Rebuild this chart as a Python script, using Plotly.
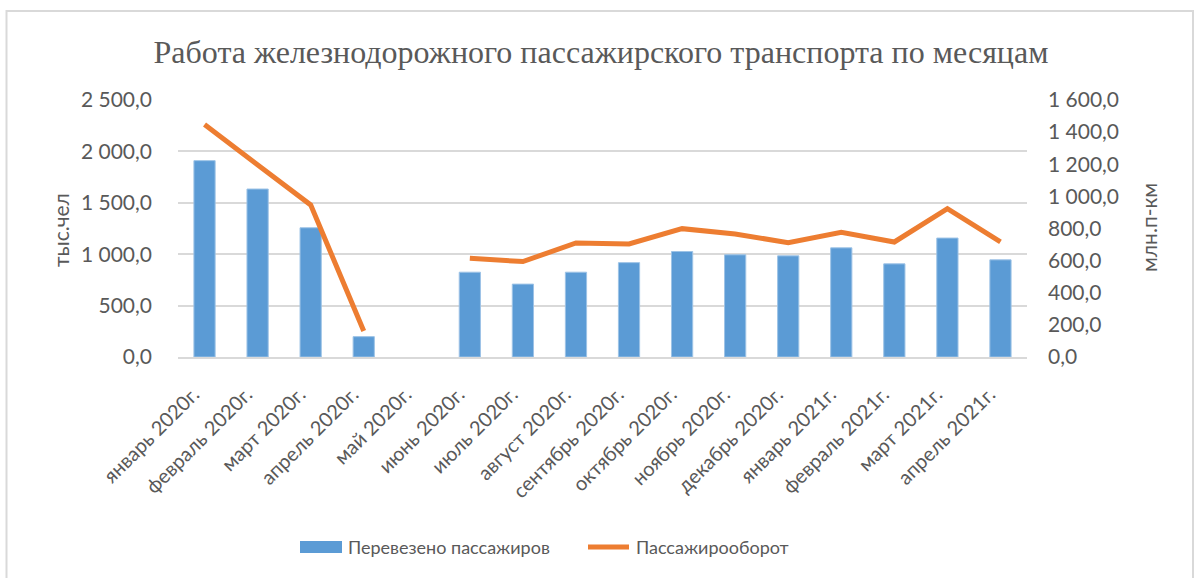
import plotly.graph_objects as go

categories = ["январь 2020г.", "февраль 2020г.", "март 2020г.", "апрель 2020г.", "май 2020г.",
              "июнь 2020г.", "июль 2020г.", "август 2020г.", "сентябрь 2020г.", "октябрь 2020г.",
              "ноябрь 2020г.", "декабрь 2020г.", "январь 2021г.", "февраль 2021г.", "март 2021г.",
              "апрель 2021г."]
passengers = [1910, 1634, 1257, 198, None, 825, 709, 825, 918, 1026, 994, 984, 1062, 906, 1157, 945]
turnover = [1447, 1196, 947, 162, None, 615, 594, 710, 704, 799, 766, 712, 777, 716, 924, 716]

name_bar = "Перевезено пассажиров"
name_line = "Пассажирооборот"

W, H = 1196, 578
ML, MR, MT, MB = 178, 169, 100, 221
PW, PH = W - ML - MR, H - MT - MB

BLUE = "#5B9BD5"
ORANGE = "#ED7D31"
GREY = "#595959"
FONT = "Lato, Noto Sans, sans-serif"

fig = go.Figure()
fig.add_trace(go.Bar(x=categories, y=passengers, name=name_bar,
                     marker=dict(color=BLUE, line=dict(color="#9DC3E6", width=1)),
                     width=0.4, yaxis="y", showlegend=False))
fig.add_trace(go.Scatter(x=categories, y=turnover, name=name_line, mode="lines",
                         line=dict(color=ORANGE, width=5), connectgaps=False, yaxis="y2",
                         showlegend=False))

axfont = dict(family=FONT, size=21, color=GREY)


def px2x(px):
    return (px - ML) / PW


def py2y(py):
    return (H - MB - py) / PH


shapes = [
    dict(type="rect", xref="paper", yref="paper",
         x0=px2x(6.5), x1=px2x(1193), y0=py2y(600), y1=py2y(11),
         line=dict(color="#D9D9D9", width=2), fillcolor="rgba(0,0,0,0)", layer="below"),
    dict(type="rect", xref="paper", yref="paper",
         x0=px2x(300), x1=px2x(342), y0=py2y(553), y1=py2y(541),
         line=dict(width=0), fillcolor=BLUE),
    dict(type="line", xref="paper", yref="paper",
         x0=px2x(588), x1=px2x(629), y0=py2y(547), y1=py2y(547),
         line=dict(color=ORANGE, width=5)),
]

annotations = [
    dict(text="тыс.чел", xref="paper", yref="paper", x=px2x(60), y=py2y(230),
         xanchor="center", yanchor="middle", textangle=-90, showarrow=False, font=axfont),
    dict(text="млн.п-км", xref="paper", yref="paper", x=px2x(1148), y=py2y(228),
         xanchor="center", yanchor="middle", textangle=-90, showarrow=False, font=axfont),
    dict(text=name_bar, xref="paper", yref="paper", x=px2x(346), y=py2y(547),
         xanchor="left", yanchor="middle", showarrow=False,
         font=dict(family=FONT, size=18, color=GREY)),
    dict(text=name_line, xref="paper", yref="paper", x=px2x(634), y=py2y(547),
         xanchor="left", yanchor="middle", showarrow=False,
         font=dict(family=FONT, size=18, color=GREY)),
]

fig.update_layout(
    width=W, height=H,
    margin=dict(l=ML, r=MR, t=MT, b=MB, autoexpand=False),
    paper_bgcolor="white", plot_bgcolor="white",
    separators=", ",
    title=dict(text="Работа железнодорожного пассажирского транспорта по месяцам",
               x=px2x(601), xref="paper", xanchor="center", y=1 - 52 / H, yanchor="middle",
               font=dict(family="Liberation Serif, Times New Roman, serif", size=32, color=GREY)),
    xaxis=dict(tickangle=-45, tickfont=dict(family=FONT, size=20, color=GREY),
               showgrid=False, showline=True, linecolor="#D9D9D9", linewidth=1.5, ticks="",
               automargin=False, ticklabelstandoff=16, ticklabelshift=-11),
    yaxis=dict(range=[0, 2500], dtick=500, tickformat=",.1f", tickfont=axfont,
               showgrid=True, gridcolor="#D9D9D9", gridwidth=1.5, zeroline=False,
               automargin=False, ticklabelstandoff=25),
    yaxis2=dict(range=[0, 1600], dtick=200, tickformat=",.1f", tickfont=axfont,
                overlaying="y", side="right", showgrid=False, zeroline=False,
                automargin=False, ticklabelstandoff=20),
    showlegend=False,
    shapes=shapes,
    annotations=annotations,
)

fig.write_html("out.html", config={"displayModeBar": False},
               post_script="document.body.style.margin='0';document.body.style.overflow='hidden';")
